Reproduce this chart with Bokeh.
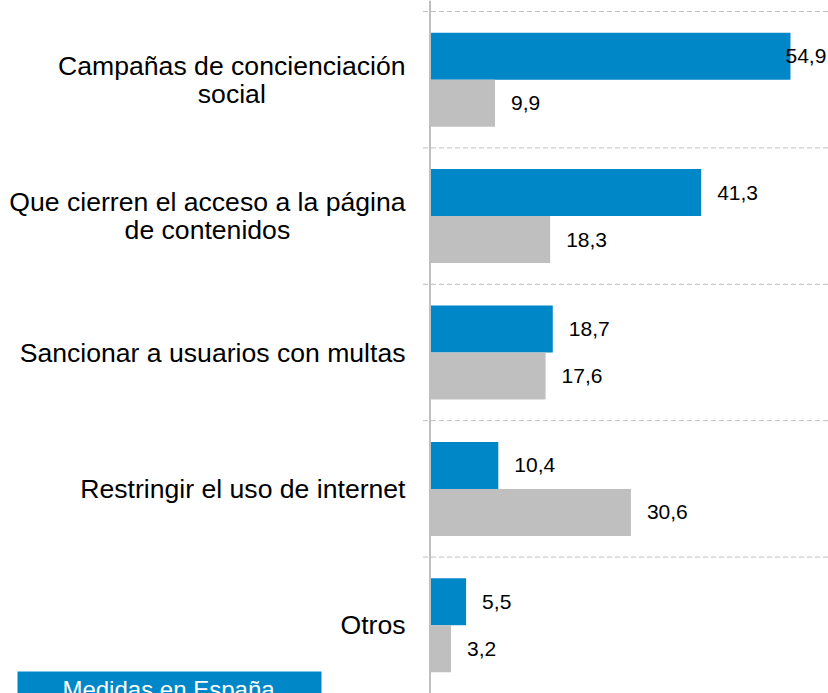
import numpy as np
from bokeh.plotting import figure
from bokeh.models import ColumnDataSource, Range1d, Span
from bokeh.core.properties import value
from bokeh.embed import file_html
from bokeh.resources import INLINE

# ---- data ----
categories = [
    "Campañas de concienciación\nsocial",
    "Que cierren el acceso a la página\nde contenidos",
    "Sancionar a usuarios con multas",
    "Restringir el uso de internet",
    "Otros",
]
medidas_espana = [54.9, 41.3, 18.7, 10.4, 5.5]
segunda_serie = [9.9, 18.3, 17.6, 30.6, 3.2]
legend_label = "Medidas en España"

# ---- layout (pixels) ----
W, H = 828, 693
PXU = 6.566          # pixels per data unit (x)
AXIS_PX = 429.5      # axis position in canvas px
BAND_PX = 136.4      # category band height
TOP_PX = 11          # first grid line from top
BAR_PX = 47          # bar thickness

BLUE = "#0087C7"
GREY = "#BFBFBF"
FONT = "Liberation Sans"

x_start = -AXIS_PX / PXU
x_end = (W - AXIS_PX) / PXU
y_end = -0.5 - TOP_PX / BAND_PX
y_start = y_end + H / BAND_PX

def px_x(cx):
    return (cx - AXIS_PX) / PXU

def px_y(cy):
    return y_end + cy / BAND_PX

n = len(categories)
idx = np.arange(n)
bh = BAR_PX / BAND_PX

p = figure(width=W, height=H, x_range=Range1d(x_start, x_end),
           y_range=Range1d(y_start, y_end), output_backend="svg",
           toolbar_location=None, min_border=0, x_axis_location=None,
           y_axis_location=None)
p.outline_line_color = None
p.grid.visible = False
p.background_fill_color = "white"

# grid lines at band boundaries
bounds = idx - 0.5
p.segment(x0=-7 / PXU, x1=x_end, y0=bounds, y1=bounds,
          line_color=GREY, line_width=1, line_dash="5 3")

# bars
src = ColumnDataSource(dict(
    y1=idx - bh / 2, y2=idx + bh / 2,
    a=medidas_espana, b=segunda_serie,
))
p.hbar(y="y1", left=0, right="a", height=bh, source=src,
       fill_color=BLUE, line_color=None)
p.hbar(y="y2", left=0, right="b", height=bh, source=src,
       fill_color=GREY, line_color=None)

# axis line
p.add_layout(Span(location=0, dimension="height", line_color=GREY, line_width=2))

# value labels
off = 16 / PXU
lab_w = 43 / PXU
def fmt(v):
    return f"{v:.1f}".replace(".", ",")
lx_a = [min(v + off, x_end - lab_w) for v in medidas_espana]
lx_b = [min(v + off, x_end - lab_w) for v in segunda_serie]
p.text(x=lx_a, y=list(idx - bh / 2), text=[fmt(v) for v in medidas_espana],
       text_font=value(FONT), text_font_size="21px", text_color="#000000",
       text_align="left", text_baseline="middle")
p.text(x=lx_b, y=list(idx + bh / 2), text=[fmt(v) for v in segunda_serie],
       text_font=value(FONT), text_font_size="21px", text_color="#000000",
       text_align="left", text_baseline="middle")

# category labels
p.text(x=[px_x(405)] * n, y=list(idx), text=categories,
       anchor=value("center_right"), text_align="center",
       text_baseline="middle", text_font=value(FONT),
       text_font_size="26.6px", text_line_height=0.93, text_color="#000000")

# legend (partially visible, as in the original)
p.quad(left=[px_x(17)], right=[px_x(321)], top=[px_y(671)], bottom=[px_y(730)],
       fill_color=BLUE, line_color=None)
p.text(x=[px_x(168)], y=[px_y(689)], text=[legend_label],
       text_font=value(FONT), text_font_size="24px", text_color="white",
       text_align="center", text_baseline="alphabetic")

open("out.html", "w").write(file_html(p, INLINE))
